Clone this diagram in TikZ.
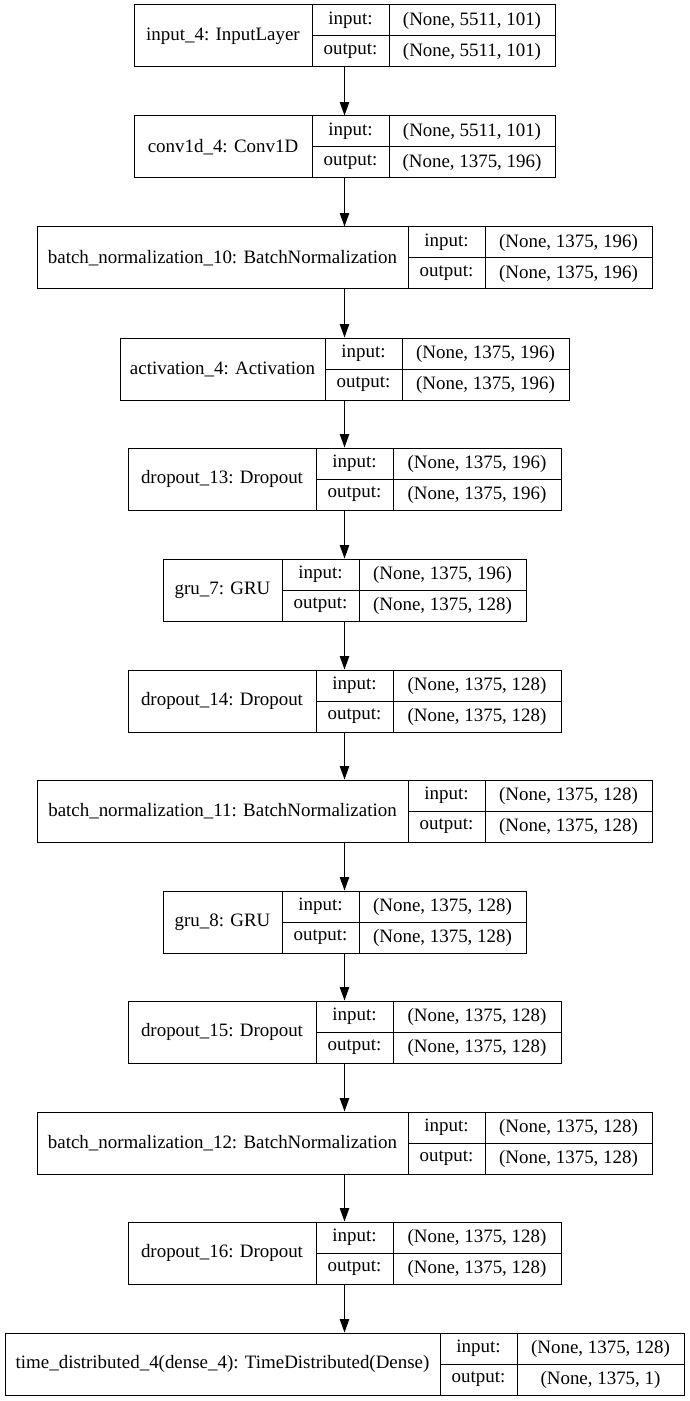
\documentclass[tikz,border=0pt]{standalone}
\usepackage{fontspec}
\setmainfont{Liberation Serif}
\usetikzlibrary{arrows.meta}

\begin{document}
\begin{tikzpicture}[x=0.75pt,y=-0.75pt,
    layerbox/.style={draw,line width=0.75pt,inner sep=0pt,minimum height=46.5pt},
    celltext/.style={inner sep=0pt,font=\fontsize{14.2}{16}\selectfont},
    cellline/.style={line width=0.75pt},
    flow/.style={line width=0.75pt,-{Triangle[length=10pt,width=7pt]}}]
    \useasboundingbox (0,0) rectangle (689,1401);
    % Draw the layers (top, left, dividers, right, texts)
    \foreach \n/\t/\l/\a/\b/\r/\name/\in/\out in {
        1/5/134/312/389/555/{input\_4: InputLayer}/{(None, 5511, 101)}/{(None, 5511, 101)},
        2/116/134/312/389/555/{conv1d\_4: Conv1D}/{(None, 5511, 101)}/{(None, 1375, 196)},
        3/227/37/408/485/652/{batch\_normalization\_10: BatchNormalization}/{(None, 1375, 196)}/{(None, 1375, 196)},
        4/338/120/325/402/569/{activation\_4: Activation}/{(None, 1375, 196)}/{(None, 1375, 196)},
        5/448/128/316/393/561/{dropout\_13: Dropout}/{(None, 1375, 196)}/{(None, 1375, 196)},
        6/559/163/282/359/526/{gru\_7: GRU}/{(None, 1375, 196)}/{(None, 1375, 128)},
        7/670/128/316/393/561/{dropout\_14: Dropout}/{(None, 1375, 128)}/{(None, 1375, 128)},
        8/780/37/408/485/652/{batch\_normalization\_11: BatchNormalization}/{(None, 1375, 128)}/{(None, 1375, 128)},
        9/891/163/282/359/526/{gru\_8: GRU}/{(None, 1375, 128)}/{(None, 1375, 128)},
        10/1001/128/316/393/561/{dropout\_15: Dropout}/{(None, 1375, 128)}/{(None, 1375, 128)},
        11/1112/37/408/485/652/{batch\_normalization\_12: BatchNormalization}/{(None, 1375, 128)}/{(None, 1375, 128)},
        12/1222/128/316/393/561/{dropout\_16: Dropout}/{(None, 1375, 128)}/{(None, 1375, 128)},
        13/1333/5/440/517/684/{time\_distributed\_4(dense\_4): TimeDistributed(Dense)}/{(None, 1375, 128)}/{(None, 1375, 1)}} {
        \node[layerbox,minimum width={(\r-\l)*0.75pt}] (layer\n) at ({(\l+\r)/2},{\t+31}) {};
        \draw[cellline] (\a,\t) -- (\a,\t+62);
        \draw[cellline] (\b,\t) -- (\b,\t+62);
        \draw[cellline] (\a,\t+31) -- (\r,\t+31);
        \node[celltext] (name\n) at ({(\l+\a)/2},{\t+31}) {\name};
        \node[celltext] (inkey\n) at ({(\a+\b)/2},{\t+15.5}) {input:};
        \node[celltext] (outkey\n) at ({(\a+\b)/2},{\t+46.5}) {output:};
        \node[celltext] (inval\n) at ({(\b+\r)/2},{\t+15.5}) {\in};
        \node[celltext] (outval\n) at ({(\b+\r)/2},{\t+46.5}) {\out};
    }
    % Draw the connections
    \foreach \n [evaluate=\n as \m using int(\n+1)] in {1,...,12}
        \draw[flow] (layer\n.south) -- (layer\m.north);
\end{tikzpicture}
\end{document}
